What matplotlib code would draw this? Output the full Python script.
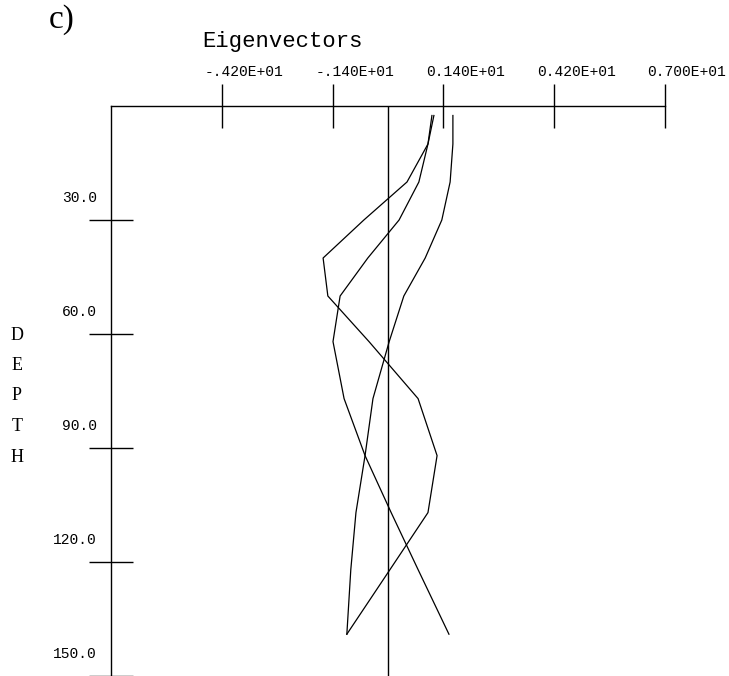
import matplotlib
matplotlib.use("Agg")
import matplotlib.pyplot as plt
from matplotlib.transforms import offset_copy

# depth levels (m) and the three eigenvector profiles
depth = [2.5, 10, 20, 30, 40, 50, 62, 77, 92, 107, 122, 139]
eof1 = [1.11, 1.01, 0.48, -0.61, -1.64, -1.52, -0.48, 0.76, 1.24, 1.01, 0.05, -1.04]
eof2 = [1.16, 1.01, 0.78, 0.28, -0.51, -1.21, -1.39, -1.11, -0.58, 0.08, 0.76, 1.54]
eof3 = [1.64, 1.64, 1.57, 1.36, 0.94, 0.40, 0.03, -0.38, -0.58, -0.81, -0.94, -1.04]

xticks = [-4.2, -1.4, 1.4, 4.2, 7.0]
xticklabels = ["-.420E+01", "-.140E+01", "0.140E+01", "0.420E+01", "0.700E+01"]
yticks = [30, 60, 90, 120, 150]
yticklabels = ["30.0", "60.0", "90.0", "120.0", "150.0"]

W, H = 729, 676
fig = plt.figure(figsize=(W / 100, H / 100), dpi=100)
ax = fig.add_axes([111 / W, 0, 554 / W, 570 / H])
ax.set_xlim(-7, 7)
ax.set_ylim(150, 0)

for s in ["right", "bottom"]:
    ax.spines[s].set_visible(False)
for s in ["top", "left"]:
    ax.spines[s].set_linewidth(1.0)

for prof in (eof1, eof2, eof3):
    ax.plot(prof, depth, color="black", lw=0.9)
ax.axvline(0, color="black", lw=1.0)

mono = "Liberation Mono"
ax.xaxis.tick_top()
ax.set_xticks(xticks)
ax.set_xticklabels([])
ax.tick_params(axis="x", direction="inout", length=32, width=1.0)
# labels sit a bit to the right of their ticks, as in the original plot
xlab_tr = offset_copy(ax.transData, fig=fig, x=22, y=34, units="dots")
for v, t in zip(xticks, xticklabels):
    ax.text(v, 0, t, transform=xlab_tr, ha="center", va="center",
            family=mono, fontsize=10.5, clip_on=False)

ax.set_yticks(yticks)
ax.set_yticklabels([])
ax.tick_params(axis="y", direction="inout", length=32, width=1.0)
ylab_tr = offset_copy(ax.transData, fig=fig, x=-14, y=22, units="dots")
for v, t in zip(yticks, yticklabels):
    ax.text(-7, v, t, transform=ylab_tr, ha="right", va="center",
            family=mono, fontsize=10.5, clip_on=False)

fig.text(282 / W, 1 - 42 / H, "Eigenvectors", ha="center", va="center",
         family=mono, fontsize=16)
fig.text(62 / W, 1 - 20 / H, "c)", ha="center", va="center",
         family="Liberation Serif", fontsize=24)
for i, ch in enumerate("DEPTH"):
    fig.text(17 / W, 1 - (335 + 30.5 * i) / H, ch, ha="center", va="center",
             family="Liberation Serif", fontsize=13)

fig.savefig("out.png", dpi=100)
